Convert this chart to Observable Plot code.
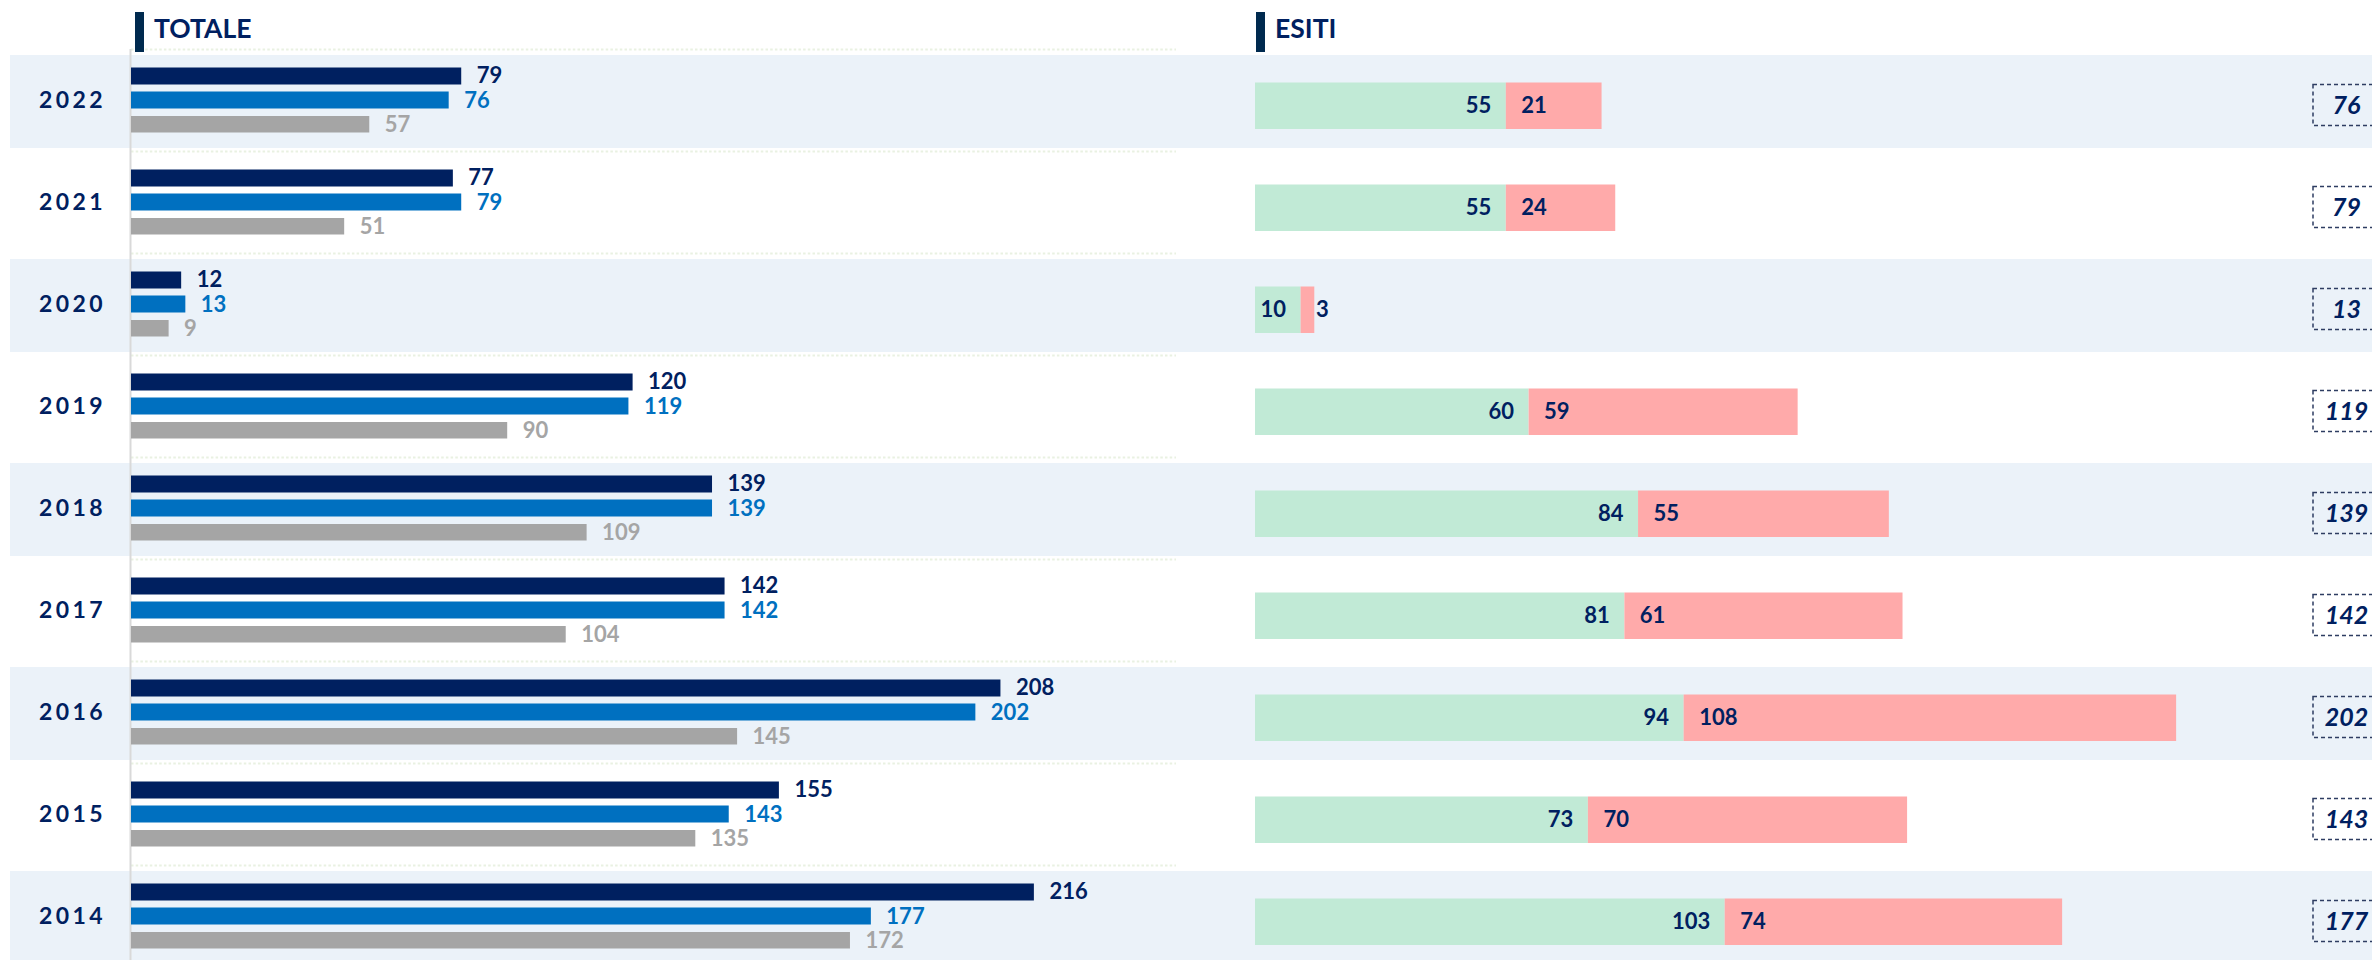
<!DOCTYPE html>
<html>
<head>
<meta charset="utf-8">
<script src="https://cdn.jsdelivr.net/npm/d3@7"></script>
<script src="https://cdn.jsdelivr.net/npm/@observablehq/plot@0.6"></script>
<style>
html, body { margin: 0; padding: 0; background: #fff; overflow: hidden; }
#wrap { position: relative; width: 2372px; height: 960px; display: flex; }
#wrap svg { flex: none; max-width: none !important; display: block; }
.head { position: absolute; top: 12px; height: 40px; line-height: 40px; border-left: 9.5px solid #002A4F;
        padding-left: 10px; font: 700 26.5px Lato, sans-serif; color: #002060; white-space: nowrap; }
</style>
</head>
<body>
<div id="wrap"></div>
<script>
// ---- data ----
const anni = ["2022", "2021", "2020", "2019", "2018", "2017", "2016", "2015", "2014"];
const serieNavy = [79, 77, 12, 120, 139, 142, 208, 155, 216];
const serieBlu = [76, 79, 13, 119, 139, 142, 202, 143, 177];
const serieGrigia = [57, 51, 9, 90, 109, 104, 145, 135, 172];
const esitiPositivi = [55, 55, 10, 60, 84, 81, 94, 73, 103];
const esitiNegativi = [21, 24, 3, 59, 55, 61, 108, 70, 74];
const esitiTotale = [76, 79, 13, 119, 139, 142, 202, 143, 177];
const titoli = ["TOTALE", "ESITI"];

// ---- styles ----
const NAVY = "#002060", BLU = "#0070C0", GRIGIO = "#A5A5A5";
const VERDE = "#C1EAD6", ROSSO = "#FFAAAA", BANDA = "#EBF2F9";
const FONT = "Lato, sans-serif";

const righe = anni.map((anno, i) => ({anno, a: serieNavy[i], b: serieBlu[i], c: serieGrigia[i]}));
const righeEsiti = anni.map((anno, i) => ({anno, pos: esitiPositivi[i], neg: esitiNegativi[i], tot: esitiTotale[i]}));
const esitiLong = anni.flatMap((anno, i) => [
  {anno, esito: "Positivi", valore: esitiPositivi[i]},
  {anno, esito: "Negativi", valore: esitiNegativi[i]}
]);
const pari = anni.filter((d, i) => i % 2 === 0);

const yCfg = () => ({type: "band", domain: anni, range: [49, 967], padding: 0, round: false, axis: null});
const bande = () => Plot.cell(pari, {y: d => d, fill: BANDA, insetTop: 6, insetBottom: 3});
const lbl = {fontSize: 22, fontWeight: 700, fontFamily: FONT};

// ---- left panel ----
const left = Plot.plot({
  width: 1200, height: 960,
  marginLeft: 10, marginRight: 0, marginTop: 49, marginBottom: 0,
  style: {fontFamily: FONT, background: "#fff"},
  x: {type: "linear", domain: [0, 250], range: [131, 131 + 250 * 4.18], axis: null},
  y: yCfg(),
  marks: [
    bande(),
    Plot.ruleY(anni, {y: d => d, x1: 0, x2: 250, dy: -51, stroke: "#E9F1E2", strokeWidth: 2, strokeDasharray: "2.5,2.2"}),
    Plot.ruleX([0], {stroke: "#D9D9D9", strokeWidth: 2, dx: -1}),
    Plot.barX(righe, {x: "a", y: "anno", fill: NAVY, insetTop: 18.5, insetBottom: 66.5}),
    Plot.barX(righe, {x: "b", y: "anno", fill: BLU, insetTop: 42.5, insetBottom: 42.5}),
    Plot.barX(righe, {x: "c", y: "anno", fill: GRIGIO, insetTop: 67, insetBottom: 18.5}),
    Plot.text(righe, {x: "a", y: "anno", text: "a", dx: 15, dy: -24.5, textAnchor: "start", fill: NAVY, ...lbl}),
    Plot.text(righe, {x: "b", y: "anno", text: "b", dx: 15, dy: 0, textAnchor: "start", fill: BLU, ...lbl}),
    Plot.text(righe, {x: "c", y: "anno", text: "c", dx: 15, dy: 24, textAnchor: "start", fill: GRIGIO, ...lbl}),
    Plot.text(anni, {y: d => d, text: d => d, frameAnchor: "left", dx: 62, textAnchor: "middle",
      fill: NAVY, fontSize: 23, fontWeight: 700, fontFamily: FONT})
  ]
});

// ---- right panel ----
const right = Plot.plot({
  width: 1050, height: 960,
  marginLeft: 0, marginRight: 0, marginTop: 49, marginBottom: 0,
  style: {fontFamily: FONT, background: "#fff"},
  x: {type: "linear", domain: [0, 200], range: [55, 55 + 200 * 4.56], axis: null},
  y: yCfg(),
  color: {domain: ["Positivi", "Negativi"], range: [VERDE, ROSSO]},
  marks: [
    bande(),
    Plot.barX(esitiLong, {x: "valore", y: "anno", fill: "esito", insetTop: 33.5, insetBottom: 22}),
    Plot.text(righeEsiti, {x: "pos", y: "anno", text: "pos", dx: -15, dy: 5.75, textAnchor: "end", fill: NAVY, ...lbl}),
    Plot.text(righeEsiti, {x: "pos", y: "anno", text: "neg", dx: 15, dy: 5.75, textAnchor: "start", fill: NAVY, ...lbl})
  ]
});

// ---- totals column ----
const tot = Plot.plot({
  width: 122, height: 960,
  marginLeft: 0, marginRight: 0, marginTop: 49, marginBottom: 0,
  style: {fontFamily: FONT, background: "#fff"},
  x: {type: "band", domain: ["Totale"], range: [63, 129], padding: 0, axis: null},
  y: yCfg(),
  marks: [
    bande(),
    Plot.cell(righeEsiti, {x: () => "Totale", y: "anno", fill: "none", stroke: "#2E3D62", strokeWidth: 1.5,
      strokeDasharray: "4,3", insetTop: 35.5, insetBottom: 25.5}),
    Plot.text(righeEsiti, {x: () => "Totale", y: "anno", text: "tot", dy: 5, fill: NAVY,
      fontSize: 25, fontWeight: 700, fontStyle: "italic", fontFamily: FONT})
  ]
});

const wrap = document.getElementById("wrap");
wrap.append(left, right, tot);
left.querySelectorAll("text").forEach(t => {
  if (anni.includes(t.textContent)) t.setAttribute("letter-spacing", "3.4");
});

// headers
const posTitoli = [135, 1256];
titoli.forEach((t, i) => {
  const d = document.createElement("div");
  d.className = "head";
  d.style.left = posTitoli[i] + "px";
  d.textContent = t;
  wrap.append(d);
});
</script>
</body>
</html>
